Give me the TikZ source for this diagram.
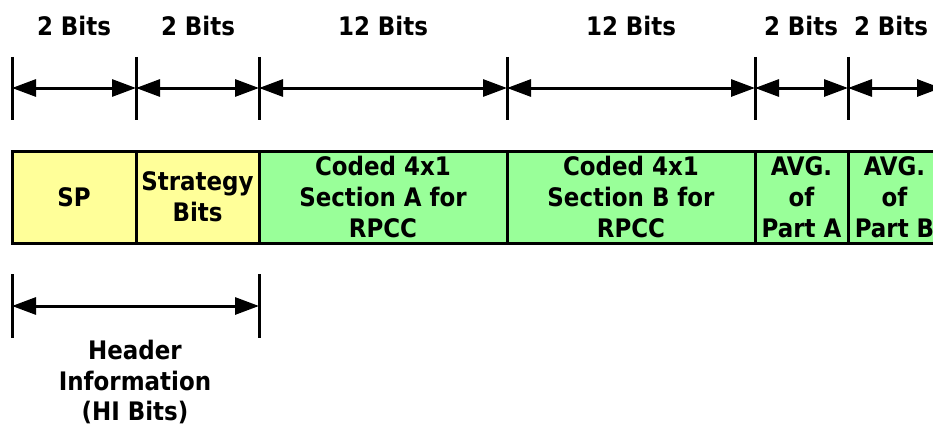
\documentclass[tikz,border=0pt]{standalone}
\usepackage{fontspec}
\setmainfont{DejaVu Sans Condensed}
\usetikzlibrary{arrows.meta}
\definecolor{hdryellow}{HTML}{FFFF99}
\definecolor{fldgreen}{HTML}{99FF99}
\tikzset{
  lbl/.style={font=\bfseries\fontsize{25.5}{30.5}\selectfont, align=center, inner sep=0pt},
  field/.style={draw=black, line width=3pt, inner sep=0pt, minimum height=92pt, font=\bfseries\fontsize{25.5}{31}\selectfont, align=center},
  tick/.style={line width=3pt},
  dimarrow/.style={line width=3pt, {Triangle[length=24pt,width=17pt]}-{Triangle[length=24pt,width=17pt]}},
}
\begin{document}
\begin{tikzpicture}[x=1pt,y=-1pt]
\useasboundingbox (0,0) rectangle (933,428);
\clip (0,0) rectangle (933,428);
% top labels
\node[lbl] (l1) at (74,26) {2 Bits};
\node[lbl] (l2) at (198,26) {2 Bits};
\node[lbl] (l3) at (383,26) {12 Bits};
\node[lbl] (l4) at (631,26) {12 Bits};
\node[lbl] (l5) at (801,26) {2 Bits};
\node[lbl] (l6) at (891,26) {2 Bits};
% tick coordinates
\foreach \n/\x in {0/12,1/136,2/259,3/507,4/755,5/848,6/941}{
  \coordinate (tt\n) at (\x,57);
  \coordinate (tb\n) at (\x,120);
  \coordinate (ta\n) at (\x,88);
  \draw[tick] (tt\n) -- (tb\n);
}
\foreach \a/\b in {0/1,1/2,2/3,3/4,4/5,5/6}{
  \draw[dimarrow] (ta\a) -- (ta\b);
}
% fields
\node[field, fill=hdryellow, minimum width=124pt] (sp) at (74,197) {SP};
\node[field, fill=hdryellow, minimum width=123pt] (strat) at (197.5,197) {Strategy\\Bits};
\node[field, fill=fldgreen, minimum width=248pt] (secA) at (383,197) {Coded 4x1\\Section A for\\RPCC};
\node[field, fill=fldgreen, minimum width=248pt] (secB) at (631,197) {Coded 4x1\\Section B for\\RPCC};
\node[field, fill=fldgreen, minimum width=93pt] (avgA) at (801.5,197) {AVG.\\of\\Part A};
\node[field, fill=fldgreen, minimum width=93pt] (avgB) at (894.5,197) {AVG.\\of\\Part B};
% header dimension
\coordinate (ht0) at (12,274);
\coordinate (hb0) at (12,338);
\coordinate (ht1) at (259,274);
\coordinate (hb1) at (259,338);
\coordinate (ha0) at (12,306);
\coordinate (ha1) at (259,306);
\draw[tick] (ht0) -- (hb0);
\draw[tick] (ht1) -- (hb1);
\draw[dimarrow] (ha0) -- (ha1);
\node[lbl] (hdr) at (135,382) {Header\\Information\\(HI Bits)};
\end{tikzpicture}
\end{document}
